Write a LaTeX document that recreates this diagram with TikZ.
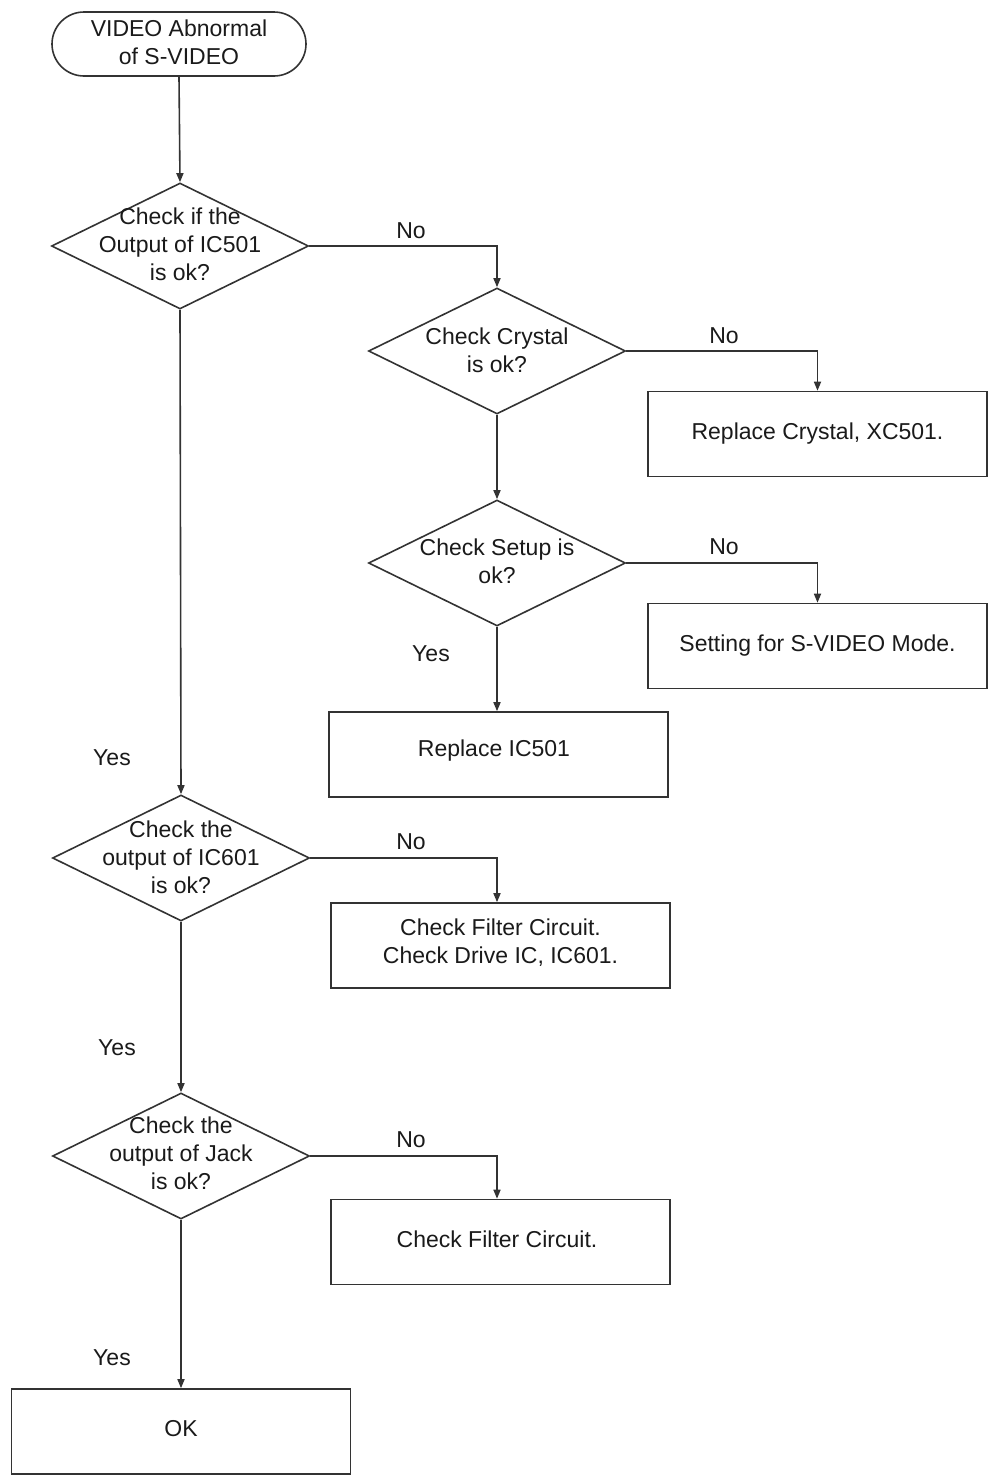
\documentclass[tikz,border=0pt]{standalone}
\usepackage{fontspec}
\setmainfont{Liberation Sans}
\usetikzlibrary{shapes.geometric,arrows.meta}
\definecolor{ln}{HTML}{333333}
\definecolor{tx}{HTML}{1A1A1A}
\begin{document}
\begin{tikzpicture}[x=1pt,y=-1pt,
  every node/.style={text=tx,font=\fontsize{23}{28}\selectfont,align=center,inner sep=0pt},
  dia/.style={draw=ln,line width=1.6pt,diamond,minimum width=257pt,minimum height=126pt,inner sep=0pt},
  box/.style={draw=ln,line width=1.6pt,rectangle,minimum width=339pt,minimum height=85pt},
  term/.style={draw=ln,line width=1.6pt,rectangle,rounded corners=32pt,minimum width=254pt,minimum height=64pt},
  conn/.style={draw=ln,line width=1.6pt},
  arr/.style={conn,-{Triangle[length=9pt,width=7pt]}}]
\useasboundingbox (0,0) rectangle (992,1478);
\fill[white] (0,0) rectangle (992,1478);
% nodes
\node[term] (start) at (179,44) {};
\node at (179,42) {VIDEO Abnormal\\of S-VIDEO};
\node[dia] (d1) at (180,246) {};
\node at (180,244) {Check if the\\Output of IC501\\is ok?};
\node[dia] (d2) at (497,351) {};
\node at (497,350) {Check Crystal\\is ok?};
\node[box] (b1) at (817.5,434) {Replace Crystal, XC501.};
\node[dia] (d3) at (497,563) {};
\node at (497,561) {Check Setup is\\ok?};
\node[box] (b2) at (817.5,646) {Setting for S-VIDEO Mode.};
\node[box] (b3) at (498.5,754.5) {};
\node at (494,751) {Replace IC501};
\node[dia] (d4) at (181,858) {};
\node at (181,857) {Check the\\output of IC601\\is ok?};
\node[box] (b4) at (500.5,945.5) {};
\node at (500.5,943) {Check Filter Circuit.\\Check Drive IC, IC601.};
\node[dia] (d5) at (181,1156) {};
\node at (181,1153) {Check the\\output of Jack\\is ok?};
\node[box] (b5) at (500.5,1242) {};
\node at (497,1239) {Check Filter Circuit.};
\node[box] (b6) at (181,1431.5) {};
\node at (181,1429) {OK};
% connector end points
\coordinate (k3) at (d3.south |- b3.north);
\coordinate (k4) at (d3.south |- b4.north);
\coordinate (k5) at (d3.south |- b5.north);
\coordinate (k6) at (d5.south |- b6.north);
% connectors
\draw[arr] (start.south) -- (d1.north);
\draw[arr] (d1.east) -| (d2.north);
\draw[arr] (d2.east) -| (b1.north);
\draw[arr] (d2.south) -- (d3.north);
\draw[arr] (d3.east) -| (b2.north);
\draw[arr] (d3.south) -- (k3);
\draw[arr] (d1.south) -- (d4.north);
\draw[arr] (d4.east) -| (k4);
\draw[arr] (d4.south) -- (d5.north);
\draw[arr] (d5.east) -| (k5);
\draw[arr] (d5.south) -- (k6);
% labels
\node at (411,231) {No};
\node at (724,336) {No};
\node at (724,547) {No};
\node at (431,654) {Yes};
\node at (112,758) {Yes};
\node at (411,842) {No};
\node at (117,1048) {Yes};
\node at (411,1140) {No};
\node at (112,1358) {Yes};
\end{tikzpicture}
\end{document}
